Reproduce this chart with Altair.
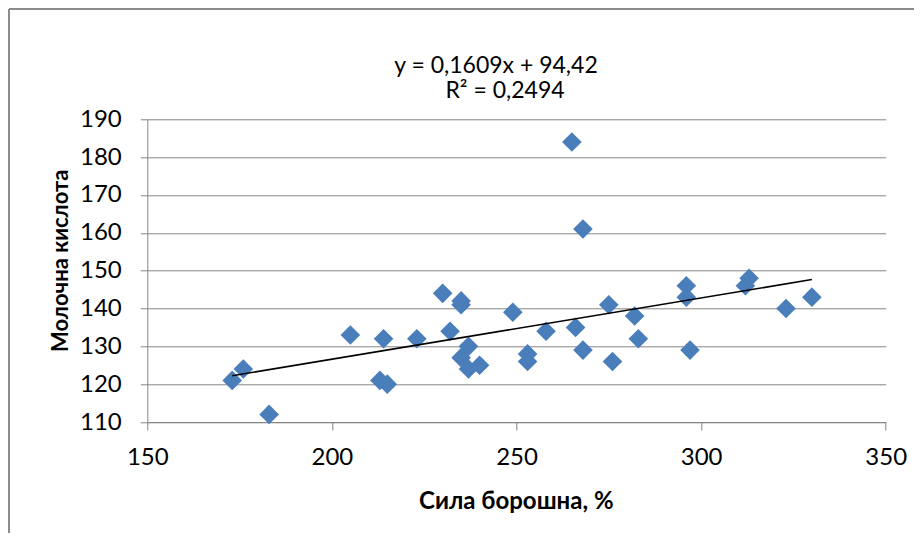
import altair as alt
import pandas as pd

# --- data ---
flour_strength = [173, 176, 183, 205, 213, 215, 214, 223, 230, 235, 235, 232, 237, 235,
                  237, 240, 249, 253, 253, 258, 265, 268, 266, 268, 275, 276, 282, 283,
                  296, 296, 297, 312, 313, 323, 330]
lactic_acid = [121, 124, 112, 133, 121, 120, 132, 132, 144, 142, 141, 134, 130, 127,
               124, 125, 139, 128, 126, 134, 184, 161, 135, 129, 141, 126, 138, 132,
               146, 143, 129, 146, 148, 140, 143]
x_ticks = [150, 200, 250, 300, 350]
y_ticks = [110, 120, 130, 140, 150, 160, 170, 180, 190]
eq_lines = ["y = 0,1609x + 94,42", "R² = 0,2494"]
x_title = "Сила борошна, %"
y_title = "Молочна кислота"

df = pd.DataFrame({"x": flour_strength, "y": lactic_acid})

W, H = 738.4, 302.7
FONT = "Lato"
GRID = "#868686"

xs = alt.Scale(domain=[150, 350], nice=False, zero=False)
ys = alt.Scale(domain=[110, 190], nice=False, zero=False)

xaxis = alt.Axis(values=x_ticks, grid=False, domainColor=GRID, tickColor=GRID,
                 tickSize=8, labelFont=FONT, labelFontSize=24, labelColor="#000",
                 labelPadding=15, labelFlush=False, labelOverlap=False,
                 title=x_title, titleFont=FONT, titleFontSize=24, titleFontWeight="bold",
                 titleColor="#000", titleX=368.5, titleY=86, titleBaseline="alphabetic",
                 titleAlign="center")
yaxis = alt.Axis(values=y_ticks, grid=True, gridColor=GRID, gridWidth=1,
                 domainColor=GRID, tickColor=GRID, tickSize=7,
                 labelFont=FONT, labelFontSize=24, labelColor="#000", labelPadding=19,
                 labelFlush=False, labelOverlap=False,
                 title=y_title, titleFont=FONT, titleFontSize=22, titleFontWeight="bold",
                 titleColor="#000", titleX=-87, titleY=141, titleAngle=-90,
                 titleBaseline="middle", titleAlign="center")

base = alt.Chart(df)

points = base.mark_point(shape="diamond", filled=True, size=385, color="#4A7EBB",
                         opacity=1).encode(
    x=alt.X("x:Q", scale=xs, axis=xaxis),
    y=alt.Y("y:Q", scale=ys, axis=yaxis),
)

trend = base.transform_regression("x", "y", method="linear").mark_line(
    color="#000000", strokeWidth=1.6).encode(
    x=alt.X("x:Q", scale=xs, axis=xaxis),
    y=alt.Y("y:Q", scale=ys, axis=yaxis),
)

eq_df = pd.DataFrame({"t": eq_lines, "px": [348.7, 357.7], "py": [-46.6, -21.0]})
eq = alt.Chart(eq_df).mark_text(font=FONT, fontSize=23, color="#000",
                                align="center", baseline="alphabetic").encode(
    text="t:N",
    x=alt.X("px:Q", scale=None),
    y=alt.Y("py:Q", scale=None),
)

FRAME = "#8c8c8c"
frame_top = alt.Chart(pd.DataFrame({"a": [0]})).mark_rule(
    color=FRAME, strokeWidth=2).encode(
    x=alt.value(-138.3), x2=alt.value(W + 40), y=alt.value(-110.3))
frame_left = alt.Chart(pd.DataFrame({"a": [0]})).mark_rule(
    color=FRAME, strokeWidth=2).encode(
    x=alt.value(-138.3), y=alt.value(-110.3), y2=alt.value(H + 120))

chart = alt.layer(points, trend, frame_top, frame_left, eq).properties(
    width=W, height=H,
    autosize="none",
    padding={"left": 139.3, "top": 111.3, "right": 28.3, "bottom": 111},
    background="white",
).configure_view(strokeWidth=0)

chart.save("out.html", embed_options={"renderer": "svg", "actions": False})
